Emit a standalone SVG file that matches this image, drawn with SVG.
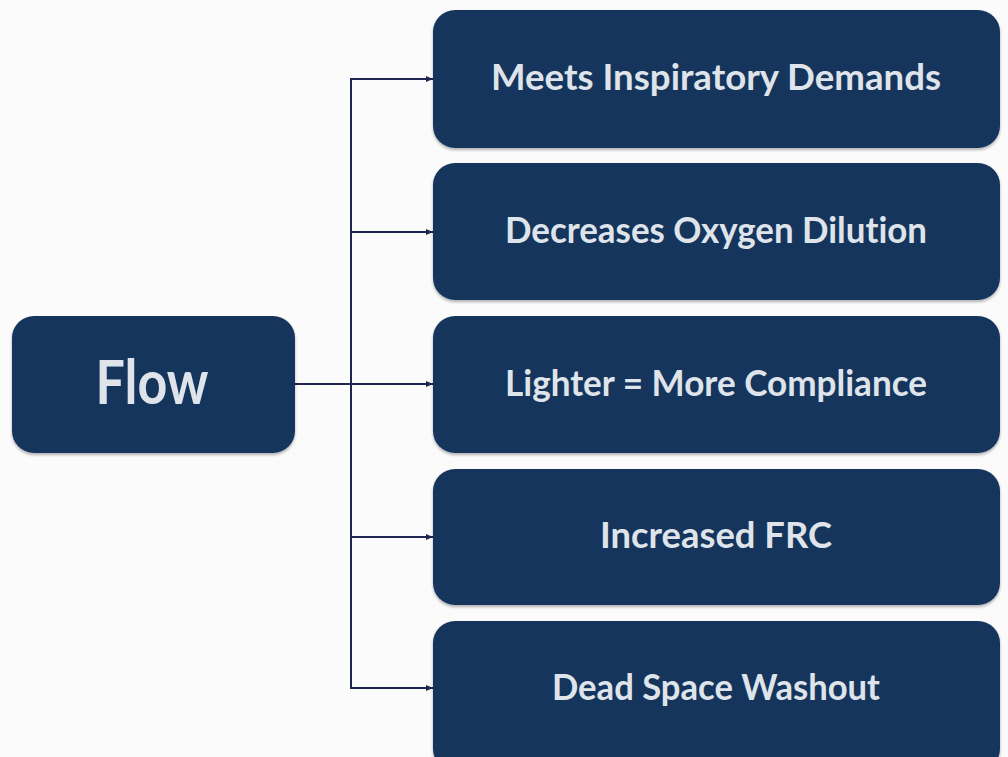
<svg xmlns="http://www.w3.org/2000/svg" width="1008" height="757" viewBox="0 0 1008 757">
<defs>
<style>
.box{fill:#19365d;filter:url(#sh);}
.lbl{fill:#dfe4ea;font-family:Lato,"Open Sans",sans-serif;font-weight:bold;text-anchor:middle;font-variant-ligatures:none;font-feature-settings:"liga" 0;}
.con{stroke:#1d2550;stroke-width:2;fill:none;}
</style>
<filter id="sh" x="-5%" y="-5%" width="110%" height="115%">
<feDropShadow dx="0" dy="2" stdDeviation="1.5" flood-color="#000" flood-opacity="0.3"/>
</filter>
<marker id="arr" markerWidth="8" markerHeight="8" refX="7" refY="4" orient="auto" markerUnits="userSpaceOnUse">
<path d="M0,1 L7,4 L0,7 Z" fill="#1d2550"/>
</marker>
</defs>
<rect width="1008" height="757" fill="#fbfbfb"/>
<g id="connectors">
<line class="con" x1="295" y1="384" x2="433" y2="384" marker-end="url(#arr)"/>
<line class="con" x1="351" y1="79" x2="351" y2="688"/>
<line class="con" x1="350" y1="79" x2="433" y2="79" marker-end="url(#arr)"/>
<line class="con" x1="350" y1="232" x2="433" y2="232" marker-end="url(#arr)"/>
<line class="con" x1="350" y1="537" x2="433" y2="537" marker-end="url(#arr)"/>
<line class="con" x1="350" y1="688" x2="433" y2="688" marker-end="url(#arr)"/>
</g>
<g id="flow">
<rect class="box" x="12" y="316" width="283" height="137" rx="22"/>
<text class="lbl" x="152" y="404" font-size="62" textLength="113" lengthAdjust="spacingAndGlyphs">Flow</text>
</g>
<g id="n1">
<rect class="box" x="433" y="10" width="567" height="138" rx="22"/>
<text class="lbl" x="716" y="90" font-size="37" textLength="450" lengthAdjust="spacingAndGlyphs">Meets Inspiratory Demands</text>
</g>
<g id="n2">
<rect class="box" x="433" y="163" width="567" height="137" rx="22"/>
<text class="lbl" x="716" y="243" font-size="37" textLength="422" lengthAdjust="spacingAndGlyphs">Decreases Oxygen Dilution</text>
</g>
<g id="n3">
<rect class="box" x="433" y="316" width="567" height="137" rx="22"/>
<text class="lbl" x="716" y="396" font-size="37" textLength="422" lengthAdjust="spacingAndGlyphs">Lighter = More Compliance</text>
</g>
<g id="n4">
<rect class="box" x="433" y="469" width="567" height="136" rx="22"/>
<text class="lbl" x="716" y="548" font-size="37" textLength="232" lengthAdjust="spacingAndGlyphs">Increased FRC</text>
</g>
<g id="n5">
<rect class="box" x="433" y="621" width="567" height="150" rx="22"/>
<text class="lbl" x="716" y="700" font-size="37" textLength="328" lengthAdjust="spacingAndGlyphs">Dead Space Washout</text>
</g>
</svg>
